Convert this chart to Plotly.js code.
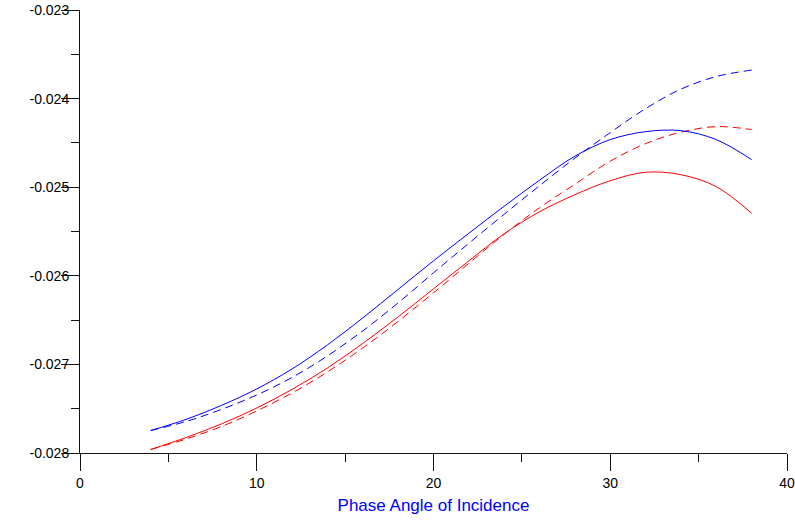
<!DOCTYPE html>
<html>
<head>
<meta charset="utf-8">
<script src="https://cdn.plot.ly/plotly-3.0.1.min.js"></script>
<style>html,body{margin:0;padding:0;background:#fff;}#chart{width:795px;height:520px;}</style>
</head>
<body>
<div id="chart"></div>
<script>
var phaseAngle = [4, 6, 8, 10, 12, 14, 16, 18, 20, 22, 24, 26, 28, 30, 32, 34, 36, 38];

var blueSolid = [-0.027746, -0.027621, -0.027463, -0.027277, -0.027051, -0.026780, -0.026475, -0.026153, -0.025831,
                 -0.025520, -0.025215, -0.024921, -0.024650, -0.024463, -0.024373, -0.024362, -0.024463, -0.024689];
var blueDashed = [-0.027746, -0.027644, -0.027508, -0.027345, -0.027147, -0.026904, -0.026621, -0.026305, -0.025966,
                  -0.025633, -0.025305, -0.024983, -0.024672, -0.024384, -0.024113, -0.023893, -0.023751, -0.023678];
var redSolid = [-0.027960, -0.027825, -0.027672, -0.027492, -0.027282, -0.027040, -0.026763, -0.026463, -0.026147,
                -0.025831, -0.025525, -0.025277, -0.025085, -0.024927, -0.024831, -0.024859, -0.024994, -0.025294];
var redDashed = [-0.027960, -0.027842, -0.027701, -0.027525, -0.027322, -0.027085, -0.026814, -0.026514, -0.026192,
                 -0.025859, -0.025531, -0.025232, -0.024966, -0.024706, -0.024508, -0.024379, -0.024316, -0.024350];

var yTickVals = [-0.028, -0.027, -0.026, -0.025, -0.024, -0.023];
var yTickText = ['-0.028', '-0.027', '-0.026', '-0.025', '-0.024', '-0.023'];
var yMinorVals = [-0.0275, -0.0265, -0.0255, -0.0245, -0.0235];
var xTickVals = [0, 10, 20, 30, 40];
var xTickText = ['0', '10', '20', '30', '40'];
var xMinorVals = [5, 15, 25, 35];
var xTitle = 'Phase Angle of Incidence';

function tr(y, color, dash) {
  return {
    x: phaseAngle, y: y, type: 'scatter', mode: 'lines',
    line: {color: color, width: 1, dash: dash, shape: 'spline', smoothing: 1},
    hoverinfo: 'skip', showlegend: false
  };
}

var data = [
  tr(blueDashed, '#0000ff', '8px,5px'),
  tr(redDashed, '#ff0000', '8px,5px'),
  tr(blueSolid, '#0000ff', 'solid'),
  tr(redSolid, '#ff0000', 'solid')
];

var axisColor = '#111111';
var layout = {
  width: 795, height: 520,
  margin: {l: 80, r: 8, t: 10, b: 67, pad: 0},
  paper_bgcolor: '#ffffff', plot_bgcolor: '#ffffff',
  font: {family: 'Liberation Sans, Arial, sans-serif', size: 14, color: '#000000'},
  xaxis: {
    range: [0, 40], showgrid: false, zeroline: false,
    showline: true, linecolor: axisColor, linewidth: 1,
    ticks: 'outside', ticklen: 17, tickwidth: 1, tickcolor: axisColor,
    tickmode: 'array', tickvals: xTickVals, ticktext: xTickText,
    tickfont: {size: 14, color: '#000000'},
    minor: {tickmode: 'array', tickvals: xMinorVals, ticks: 'outside', ticklen: 8, tickcolor: axisColor, tickwidth: 1, showgrid: false},
    title: {text: xTitle, font: {size: 17, color: '#0000ff'}, standoff: 9}
  },
  yaxis: {
    range: [-0.028, -0.023], showgrid: false, zeroline: false,
    showline: true, linecolor: axisColor, linewidth: 1,
    ticks: 'outside', ticklen: 18, tickwidth: 1, tickcolor: axisColor,
    tickmode: 'array', tickvals: yTickVals, ticktext: yTickText,
    tickfont: {size: 14, color: '#000000'},
    ticklabelstandoff: -11,
    minor: {tickmode: 'array', tickvals: yMinorVals, ticks: 'outside', ticklen: 8, tickcolor: axisColor, tickwidth: 1, showgrid: false}
  }
};

Plotly.newPlot('chart', data, layout, {displayModeBar: false, staticPlot: true});
</script>
</body>
</html>
